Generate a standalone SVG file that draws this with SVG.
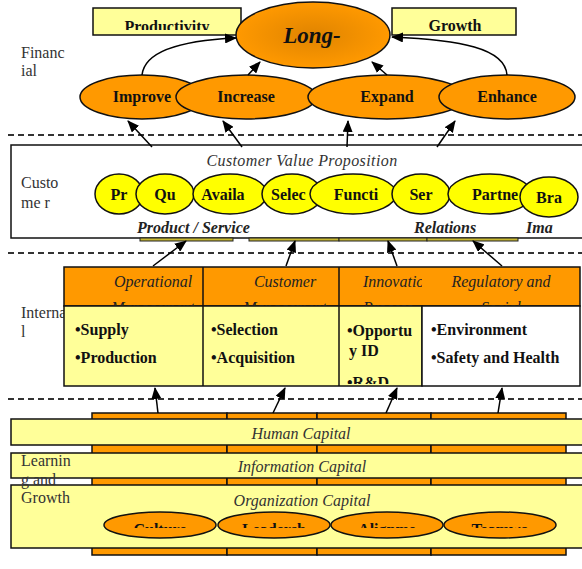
<svg xmlns="http://www.w3.org/2000/svg" width="582" height="569" viewBox="0 0 582 569">
<defs>
<style>
.lbl{font-family:"Liberation Serif",serif;font-size:16px;fill:#333}
.b{font-family:"Liberation Serif",serif;font-weight:bold;font-size:16px;fill:#111;text-anchor:middle}
.bs{font-family:"Liberation Serif",serif;font-weight:bold;font-size:16px;fill:#111}
.it{font-family:"Liberation Serif",serif;font-style:italic;font-size:16px;fill:#333;text-anchor:middle}
.ith{font-family:"Liberation Serif",serif;font-style:italic;font-size:16px;fill:#222;text-anchor:middle}
.bi{font-family:"Liberation Serif",serif;font-style:italic;font-weight:bold;font-size:16px;fill:#222}
.org{fill:#FF9900;stroke:#111;stroke-width:1.5}
.yel{fill:#FFFF00;stroke:#111;stroke-width:1.5}
.ly{fill:#FFFF99;stroke:#111;stroke-width:1.5}
.dash{stroke:#333;stroke-width:2;stroke-dasharray:6 4;fill:none}
.conn{stroke:#000;stroke-width:1.5;fill:none;marker-end:url(#ah)}
.olive{fill:#C8B830;stroke:#222;stroke-width:1}
</style>
<marker id="ah" markerWidth="12" markerHeight="10" refX="11" refY="5" orient="auto" markerUnits="userSpaceOnUse"><path d="M0,0 L12,5 L0,10 z" fill="#000"/></marker>
<radialGradient id="lg" cx="0.5" cy="0.5" r="0.5"><stop offset="0" stop-color="#E08400"/><stop offset="1" stop-color="#FF9900"/></radialGradient>
<clipPath id="cpProd"><rect x="93" y="8" width="148" height="22"/></clipPath>
<clipPath id="cpH1"><rect x="64" y="267" width="139" height="39"/></clipPath>
<clipPath id="cpH2"><rect x="203" y="267" width="136" height="39"/></clipPath>
<clipPath id="cpH3"><rect x="339" y="267" width="83" height="39"/></clipPath>
<clipPath id="cpH4"><rect x="422" y="267" width="158" height="39"/></clipPath>
<clipPath id="cpB3"><rect x="339" y="306" width="83" height="78"/></clipPath>
<clipPath id="cpLG"><rect x="0" y="500" width="582" height="28"/></clipPath>
</defs>
<rect width="582" height="569" fill="#fff"/>

<g id="dividers">
<line class="dash" x1="8" y1="135" x2="582" y2="135"/>
<line class="dash" x1="8" y1="253" x2="582" y2="253"/>
<line class="dash" x1="8" y1="399" x2="582" y2="399"/>
</g>

<g id="financial">
<text class="lbl" x="21" y="58">Financ</text>
<text class="lbl" x="21" y="76">ial</text>
<g id="productivity"><rect class="ly" x="93" y="8" width="148" height="27"/><text class="b" x="167" y="32" clip-path="url(#cpProd)">Productivity</text></g>
<g id="growth"><rect class="ly" x="392" y="8" width="124" height="27"/><text class="b" x="455" y="31">Growth</text></g>
<g id="longterm"><ellipse cx="313" cy="35" rx="77" ry="33" fill="url(#lg)" stroke="#111" stroke-width="1.5"/><text x="312" y="43" style="font-family:'Liberation Serif',serif;font-size:23px;font-weight:bold;font-style:italic;fill:#111;text-anchor:middle">Long-</text></g>
<g id="improve"><ellipse class="org" cx="142" cy="97" rx="62" ry="22"/><text class="b" x="142" y="102">Improve</text></g>
<g id="increase"><ellipse class="org" cx="246" cy="97" rx="70" ry="22"/><text class="b" x="246" y="102">Increase</text></g>
<g id="expand"><ellipse class="org" cx="387" cy="97" rx="79" ry="22"/><text class="b" x="387" y="102">Expand</text></g>
<g id="enhance"><ellipse class="org" cx="507" cy="97" rx="68" ry="22"/><text class="b" x="507" y="102">Enhance</text></g>
</g>

<g id="customer">
<rect x="11" y="145" width="580" height="93" fill="#fff" stroke="#111" stroke-width="1.5"/>
<text class="lbl" x="21" y="188">Custo</text>
<text class="lbl" x="21" y="208">me r</text>
<text class="it" x="302" y="166" style="letter-spacing:0.4px">Customer Value Proposition</text>
<g id="pr"><ellipse class="yel" cx="119" cy="194" rx="24" ry="20"/><text class="b" x="119" y="200">Pr</text></g>
<g id="qu"><ellipse class="yel" cx="165" cy="194" rx="29" ry="20"/><text class="b" x="165" y="200">Qu</text></g>
<g id="availa"><ellipse class="yel" cx="230" cy="194" rx="37" ry="20"/><text class="b" x="223" y="200">Availa</text></g>
<g id="selec"><ellipse class="yel" cx="292" cy="194" rx="30" ry="20"/><text class="bs" x="271" y="200">Selec</text></g>
<g id="functi"><ellipse class="yel" cx="353" cy="194" rx="43" ry="20"/><text class="b" x="356" y="200">Functi</text></g>
<g id="ser"><ellipse class="yel" cx="421" cy="194" rx="29" ry="20"/><text class="b" x="421" y="200">Ser</text></g>
<g id="partne"><ellipse class="yel" cx="490" cy="194" rx="42" ry="20"/><text class="bs" x="472" y="200">Partne</text></g>
<g id="bra"><ellipse class="yel" cx="549" cy="197" rx="29" ry="20"/><text class="b" x="549" y="203">Bra</text></g>
<text class="bi" x="137" y="233">Product / Service</text>
<text class="bi" x="414" y="233">Relations</text>
<text class="bi" x="526" y="233">Ima</text>
<rect class="olive" x="140" y="238" width="93" height="3"/>
<rect class="olive" x="249" y="238" width="90" height="3"/>
<rect class="olive" x="339" y="238" width="88" height="3"/>
<rect class="olive" x="427" y="238" width="91" height="3"/>
</g>

<g id="internal">
<text class="lbl" x="21" y="318">Interna</text>
<text class="lbl" x="21" y="337">l</text>
<rect x="64" y="267" width="516" height="39" fill="#FF9900" stroke="#111" stroke-width="1.5"/>
<rect x="64" y="306" width="358" height="80" fill="#FFFF99" stroke="#111" stroke-width="1.5"/>
<rect x="422" y="306" width="158" height="80" fill="#fff" stroke="#111" stroke-width="1.5"/>
<line x1="203" y1="267" x2="203" y2="386" stroke="#111" stroke-width="1.5"/>
<line x1="339" y1="267" x2="339" y2="386" stroke="#111" stroke-width="1.5"/>
<g id="opmgmt">
<g clip-path="url(#cpH1)"><text class="ith" x="153" y="287">Operational</text><text class="ith" x="153" y="313">Management</text></g>
<text class="bs" x="75" y="335">•Supply</text>
<text class="bs" x="75" y="363">•Production</text>
</g>
<g id="custmgmt">
<g clip-path="url(#cpH2)"><text class="ith" x="285" y="287">Customer</text><text class="ith" x="285" y="313">Management</text></g>
<text class="bs" x="211" y="335">•Selection</text>
<text class="bs" x="211" y="363">•Acquisition</text>
</g>
<g id="innovation">
<g clip-path="url(#cpH3)"><text class="ith" x="363" y="287" style="text-anchor:start">Innovation</text><text class="ith" x="363" y="313" style="text-anchor:start">Process</text></g>
<g clip-path="url(#cpB3)"><text class="bs" x="347" y="336">•Opportu</text><text class="bs" x="349" y="356">y ID</text><text class="bs" x="347" y="388">•R&amp;D</text></g>
</g>
<g id="regulatory">
<g clip-path="url(#cpH4)"><text class="ith" x="501" y="287">Regulatory and</text><text class="ith" x="501" y="313">Social</text></g>
<text class="bs" x="431" y="335">•Environment</text>
<text class="bs" x="431" y="363">•Safety and Health</text>
</g>
</g>

<g id="learning">
<rect class="org" x="92" y="413" width="135" height="142"/>
<rect class="org" x="227" y="413" width="90" height="142"/>
<rect class="org" x="317" y="413" width="114" height="142"/>
<rect class="org" x="431" y="413" width="135" height="142"/>
<g id="human"><rect class="ly" x="11" y="419" width="580" height="26"/><text class="it" x="301" y="439">Human Capital</text></g>
<g id="information"><rect class="ly" x="11" y="453" width="580" height="25"/><text class="it" x="302" y="472">Information Capital</text></g>
<g id="organization"><rect class="ly" x="11" y="485" width="580" height="63"/><text class="it" x="302" y="506">Organization Capital</text>
<g id="culture"><ellipse class="org" cx="160" cy="525" rx="56" ry="13"/><text class="b" x="160" y="535" clip-path="url(#cpLG)">Culture</text></g>
<g id="leadership"><ellipse class="org" cx="274" cy="525" rx="56" ry="13"/><text class="b" x="274" y="535" clip-path="url(#cpLG)">Leadersh</text></g>
<g id="alignment"><ellipse class="org" cx="387" cy="525" rx="56" ry="13"/><text class="b" x="387" y="535" clip-path="url(#cpLG)">Alignme</text></g>
<g id="teamwork"><ellipse class="org" cx="500" cy="525" rx="56" ry="13"/><text class="b" x="500" y="535" clip-path="url(#cpLG)">Teamwo</text></g>
</g>
<text class="lbl" x="21" y="466">Learnin</text>
<text class="lbl" x="21" y="485">g and</text>
<text class="lbl" x="21" y="503">Growth</text>
</g>

<g id="connectors">
<path class="conn" d="M142,75 C145,48 190,40 236,38"/>
<path class="conn" d="M248,75 L260,62"/>
<path class="conn" d="M387,75 L372,62"/>
<path class="conn" d="M507,75 C505,48 460,40 392,37"/>
<path class="conn" d="M152,147 L128,121"/>
<path class="conn" d="M242,147 L223,121"/>
<path class="conn" d="M347,147 L348,121"/>
<path class="conn" d="M437,147 L455,121"/>
<path class="conn" d="M153,266 L186,241"/>
<path class="conn" d="M286,266 L295,241"/>
<path class="conn" d="M397,266 L388,241"/>
<path class="conn" d="M502,266 L473,241"/>
<path class="conn" d="M158,413 L155,388"/>
<path class="conn" d="M273,413 L285,388"/>
<path class="conn" d="M386,413 L397,388"/>
<path class="conn" d="M498,413 L502,388"/>
</g>
</svg>
